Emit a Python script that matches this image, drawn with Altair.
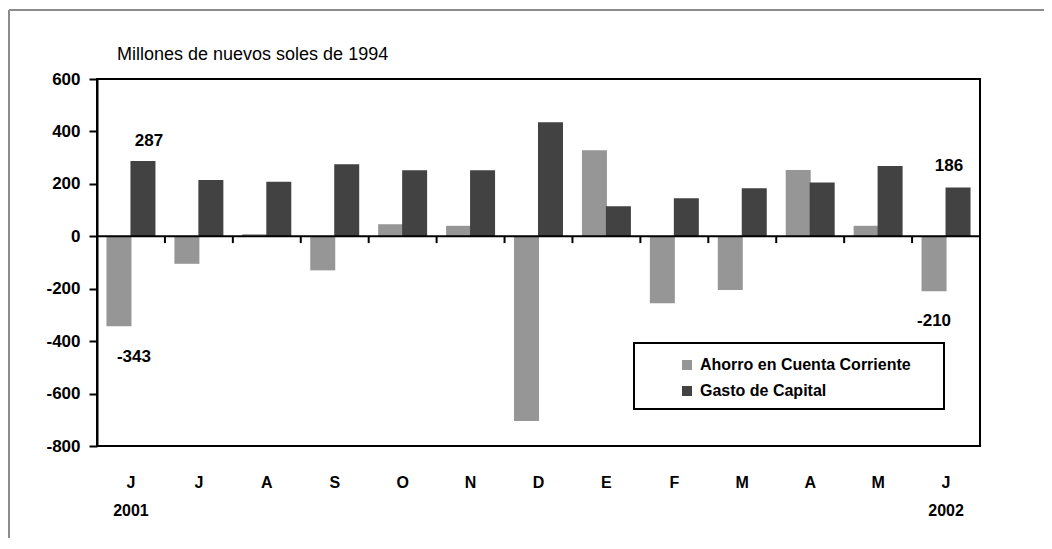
import json
import altair as alt
import pandas as pd

# ---- data ----
periodos = ["2001-06", "2001-07", "2001-08", "2001-09", "2001-10", "2001-11", "2001-12",
            "2002-01", "2002-02", "2002-03", "2002-04", "2002-05", "2002-06"]
meses = ["J", "J", "A", "S", "O", "N", "D", "E", "F", "M", "A", "M", "J"]
anios = ["2001", "", "", "", "", "", "", "", "", "", "", "", "2002"]
ahorro = [-343, -105, 8, -130, 46, 40, -705, 328, -255, -205, 253, 40, -210]
gasto = [287, 215, 208, 275, 252, 252, 435, 115, 145, 183, 205, 268, 186]
series = ["Ahorro en Cuenta Corriente", "Gasto de Capital"]
colores = ["#969696", "#424242"]
y_ticks = [-800, -600, -400, -200, 0, 200, 400, 600]

df = pd.DataFrame({
    "periodo": periodos * 2,
    "serie": [series[0]] * len(periodos) + [series[1]] * len(periodos),
    "valor": ahorro + gasto,
})
df_per = pd.DataFrame({"periodo": periodos})
df_one = pd.DataFrame({"periodo": [periodos[0]]})

FONT_B = "Liberation Sans"
FONT_R = "Liberation Sans"
FS_B = 16

etiquetas = [[m, a] if a else m for m, a in zip(meses, anios)]
label_expr = f"{json.dumps(etiquetas)}[indexof({json.dumps(periodos)}, datum.value)]"

x_enc = alt.X(
    "periodo:N", sort=periodos,
    scale=alt.Scale(paddingInner=0, paddingOuter=0),
    axis=alt.Axis(title=None, labelAngle=0, ticks=False, domain=False,
                  labelExpr=label_expr, labelFont=FONT_B, labelFontSize=FS_B,
                  labelFontWeight="bold", labelColor="black", labelPadding=28,
                  labelLineHeight=28),
)
xoff_enc = alt.XOffset("serie:N", sort=series,
                       scale=alt.Scale(paddingInner=0, paddingOuter=0.4167))
y_scale = alt.Scale(domain=[-800, 600], nice=False, zero=False)
y_enc = alt.Y(
    "valor:Q", scale=y_scale,
    axis=alt.Axis(title=None, values=y_ticks, grid=False, tickSize=8, tickWidth=2,
                  tickColor="black", domainColor="black", domainWidth=2,
                  labelExpr="toString(datum.value)",
                  labelFont=FONT_B, labelFontSize=FS_B + 1, labelFontWeight="bold",
                  labelColor="black", labelPadding=9),
)
color_enc = alt.Color(
    "serie:N", sort=series,
    scale=alt.Scale(domain=series, range=colores),
    legend=alt.Legend(title=None, orient="none", legendX=582, legendY=278,
                      symbolType="square", symbolSize=100, symbolStrokeWidth=0,
                      labelFont=FONT_B, labelFontSize=FS_B, labelFontWeight="bold",
                      labelColor="black", labelOffset=5, rowPadding=10, padding=0,
                      labelLimit=400),
)

bars = alt.Chart(df).mark_bar(size=25).encode(
    x=x_enc, xOffset=xoff_enc, y=y_enc, color=color_enc
)

zero = alt.Chart(df_one).mark_rule(color="black", strokeWidth=2).encode(y=alt.datum(0))

ticks = alt.Chart(df_per).mark_rule(color="black", strokeWidth=2).encode(
    x=alt.X("periodo:N", sort=periodos, bandPosition=0),
    y=alt.datum(0), y2=alt.datum(-26),
)

legend_box = alt.Chart(df_one).mark_rect(fill="white", stroke="black", strokeWidth=2).encode(
    x=alt.value(537), x2=alt.value(847), y=alt.value(264), y2=alt.value(330)
)

border_left = alt.Chart(df_one).mark_rule(color="#8c8c8c", strokeWidth=2).encode(
    x=alt.value(-88), y=alt.value(-69), y2=alt.value(470)
)
border_top = alt.Chart(df_one).mark_rule(color="#8c8c8c", strokeWidth=2).encode(
    y=alt.value(-69), x=alt.value(-88), x2=alt.value(1000)
)

def annot(per, ser, val, dx, dy):
    d = pd.DataFrame({"periodo": [per], "serie": [ser], "valor": [val]})
    return alt.Chart(d).transform_calculate(
        lbl="toString(datum.valor)"
    ).mark_text(
        font=FONT_B, fontSize=FS_B + 1, fontWeight="bold", color="black", dx=dx, dy=dy
    ).encode(x=alt.X("periodo:N", sort=periodos), xOffset=alt.XOffset("serie:N", sort=series),
             y=alt.Y("valor:Q"), text=alt.Text("lbl:N"))

a1 = annot(periodos[0], series[1], gasto[0], 6, -20)
a2 = annot(periodos[0], series[0], ahorro[0], 15, 31)
a3 = annot(periodos[-1], series[1], gasto[-1], -9, -22)
a4 = annot(periodos[-1], series[0], ahorro[-1], 0, 30)

title = alt.Chart(df_one).mark_text(
    font=FONT_R, fontSize=18, fontWeight="normal", color="black", align="left", baseline="middle"
).encode(x=alt.value(20), y=alt.value(-24), text=alt.value("Millones de nuevos soles de 1994"))

chart = alt.layer(
    border_left, border_top, legend_box, bars, zero, ticks, a1, a2, a3, a4, title
).resolve_scale(x="shared").properties(
    width=883, height=367,
    autosize=alt.AutoSizeParams(type="none"),
    padding={"left": 89, "top": 71, "right": 64, "bottom": 92},
    background="white",
).configure_view(stroke="black", strokeWidth=2)

chart.save("out.html", embed_options={"renderer": "svg", "actions": False})
